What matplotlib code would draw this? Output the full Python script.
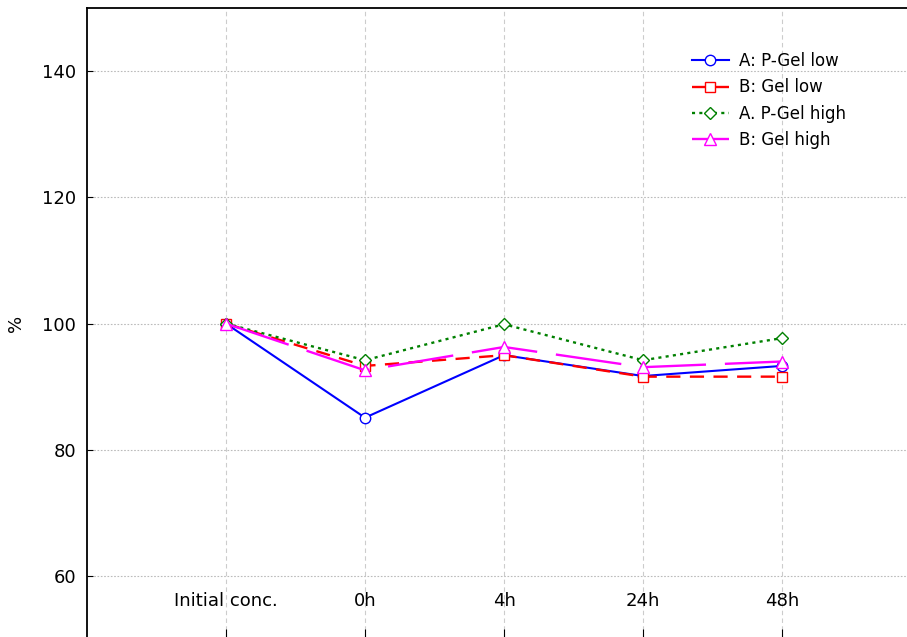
import numpy as np
import matplotlib
matplotlib.use("Agg")
import matplotlib.pyplot as plt

plt.rcParams['font.family'] = ['DejaVu Sans']

# categories and series (values in %)
categories = ["Initial conc.", "0h", "4h", "24h", "48h"]
a_pgel_low = [100, 85.1, 95.0, 91.7, 93.3]
b_gel_low = [100, 93.3, 95.0, 91.6, 91.6]
a_pgel_high = [100, 94.2, 99.9, 94.2, 97.7]
b_gel_high = [100, 92.6, 96.3, 93.1, 94.0]
y_ticks = [60, 80, 100, 120, 140]

W, H = 907, 637
fig = plt.figure(figsize=(W / 100, H / 100), dpi=100)
ax = fig.add_axes([87 / W, -2.25 / H, 834 / W, 631.25 / H])

x = np.arange(len(categories))

ax.plot(x, a_pgel_low, color='blue', lw=1.5, marker='o', ms=7.5, mfc='white',
        mec='blue', mew=1, label='A: P-Gel low', zorder=3)
ax.plot(x, b_gel_low, color='red', lw=1.7, ls=(0, (6, 4)), marker='s', ms=7.5,
        mfc='white', mec='red', mew=1, label='B: Gel low', zorder=3)
ax.plot(x, a_pgel_high, color='green', lw=1.7, ls=(0, (1.3, 1.8)), marker='D', ms=6,
        mfc='white', mec='green', mew=1, label='A. P-Gel high', zorder=3)
ax.plot(x, b_gel_high, color='magenta', lw=1.7, ls=(0, (28, 8)), marker='^', ms=8,
        mfc='white', mec='magenta', mew=1, label='B: Gel high', zorder=4)

ax.set_xlim(-1, 5)
ax.set_ylim(50, 150)
ax.set_yticks(y_ticks)
ax.set_xticks(x)
ax.set_xticklabels([])
ax.tick_params(axis='y', direction='in', length=4, labelsize=13, pad=8)
ax.tick_params(axis='x', direction='in', length=7)

# x labels sit inside the plot area
for i, lab in enumerate(categories):
    ax.text(i, 56, lab, ha='center', va='center', fontsize=13)

ax.set_ylabel('%', fontsize=13, labelpad=12)

ax.grid(axis='y', color='#bbbbbb', ls=(0, (1.5, 1.5)), lw=0.8)
ax.grid(axis='x', color='#cccccc', ls=(0, (4, 3)), lw=0.8)
ax.set_axisbelow(True)

for s in ax.spines.values():
    s.set_linewidth(1.3)

ax.legend(loc='upper left', bbox_to_anchor=(677 / W, 1 - 37 / H),
          bbox_transform=fig.transFigure, frameon=False, fontsize=12,
          handlelength=2.2, handletextpad=0.6, labelspacing=0.5)

fig.savefig('out.png', dpi=100)
